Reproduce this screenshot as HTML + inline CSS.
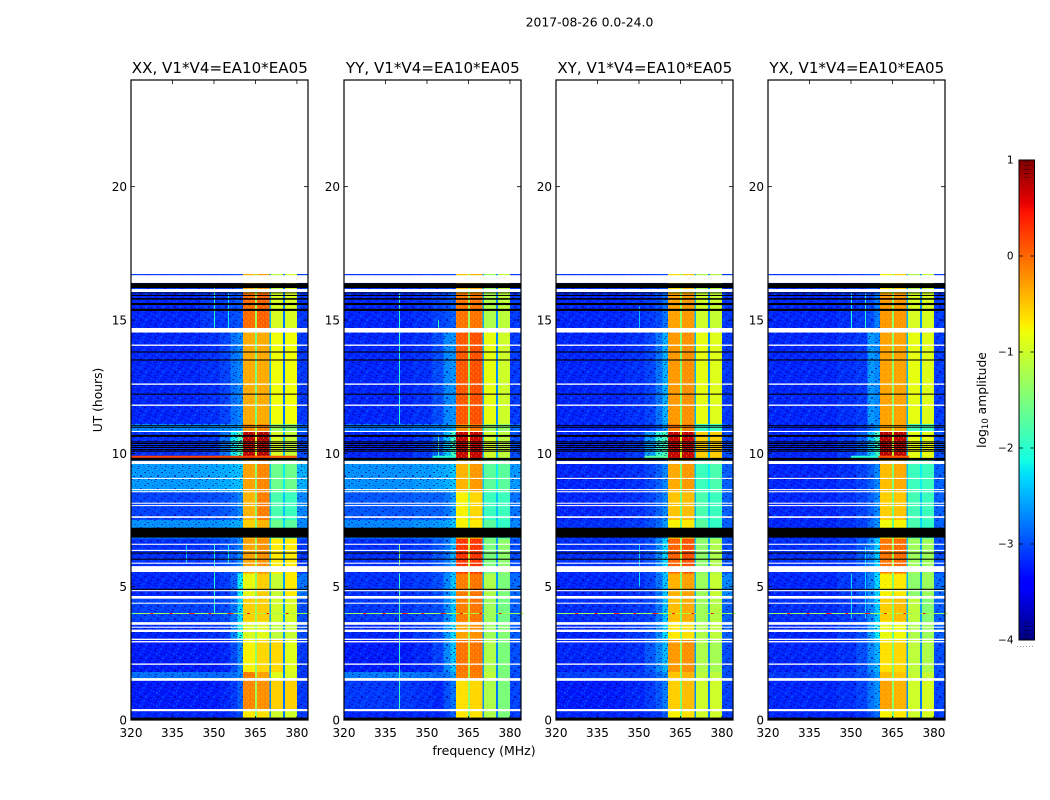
<!DOCTYPE html>
<html lang="en">
<head>
<meta charset="utf-8">
<title>2017-08-26 dynamic spectra</title>
<style>
  html, body { margin: 0; padding: 0; background: #fff; }
  body { width: 1050px; height: 800px; overflow: hidden; }
  svg { display: block; }
  text { font-family: "DejaVu Sans", "Liberation Sans", sans-serif; fill: #000; }
</style>
</head>
<body>
<svg id="chart" xmlns="http://www.w3.org/2000/svg" width="1050" height="800" viewBox="0 0 1050 800">
  <defs>
    <pattern id="speckle" width="17" height="13" patternUnits="userSpaceOnUse" shape-rendering="crispEdges">
      <rect x="1" y="0" width="2" height="1" fill="#000090" opacity=".6"/>
      <rect x="6" y="1" width="1" height="2" fill="#0068ff" opacity=".6"/>
      <rect x="9" y="0" width="1" height="1" fill="#000090" opacity=".5"/>
      <rect x="11" y="2" width="2" height="1" fill="#000090" opacity=".6"/>
      <rect x="15" y="1" width="1" height="1" fill="#0080ff" opacity=".5"/>
      <rect x="0" y="2" width="1" height="1" fill="#0070ff" opacity=".5"/>
      <rect x="3" y="3" width="2" height="2" fill="#0070ff" opacity=".5"/>
      <rect x="8" y="4" width="2" height="1" fill="#000080" opacity=".65"/>
      <rect x="13" y="4" width="1" height="2" fill="#0060ff" opacity=".6"/>
      <rect x="16" y="4" width="1" height="1" fill="#000090" opacity=".6"/>
      <rect x="1" y="5" width="1" height="1" fill="#000090" opacity=".5"/>
      <rect x="6" y="5" width="1" height="1" fill="#0080ff" opacity=".4"/>
      <rect x="11" y="6" width="1" height="1" fill="#0080ff" opacity=".4"/>
      <rect x="0" y="7" width="2" height="1" fill="#0060ff" opacity=".5"/>
      <rect x="4" y="7" width="2" height="2" fill="#000090" opacity=".6"/>
      <rect x="9" y="7" width="2" height="2" fill="#0080ff" opacity=".45"/>
      <rect x="14" y="8" width="2" height="1" fill="#000090" opacity=".6"/>
      <rect x="2" y="9" width="1" height="1" fill="#0080ff" opacity=".4"/>
      <rect x="7" y="9" width="1" height="1" fill="#000080" opacity=".5"/>
      <rect x="12" y="9" width="1" height="1" fill="#000080" opacity=".5"/>
      <rect x="16" y="10" width="1" height="1" fill="#0070ff" opacity=".5"/>
      <rect x="2" y="11" width="2" height="1" fill="#000090" opacity=".6"/>
      <rect x="7" y="11" width="2" height="2" fill="#0070ff" opacity=".45"/>
      <rect x="12" y="11" width="2" height="1" fill="#000080" opacity=".6"/>
      <rect x="15" y="12" width="1" height="1" fill="#000090" opacity=".5"/>
      <rect x="5" y="12" width="1" height="1" fill="#0080ff" opacity=".4"/>
    </pattern>
    <pattern id="ripple" width="5" height="5" patternUnits="userSpaceOnUse" shape-rendering="crispEdges">
      <rect x="1" y="0" width="1" height="2" fill="#ffe000" opacity=".3"/>
      <rect x="3" y="2" width="1" height="2" fill="#ffe000" opacity=".3"/>
      <rect x="0" y="4" width="1" height="1" fill="#ff4000" opacity=".2"/>
    </pattern>
  </defs>
  <text x="589.5" y="26.5" text-anchor="middle" font-size="12.4">2017-08-26 0.0-24.0</text>
  <text x="484" y="755" text-anchor="middle" font-size="12.5">frequency (MHz)</text>
  <text transform="translate(102,400) rotate(-90)" text-anchor="middle" font-size="12.3">UT (hours)</text>
  <text transform="translate(986,400) rotate(-90)" text-anchor="middle" font-size="12.3">log<tspan font-size="8.5" dy="2">10</tspan><tspan dy="-2"> amplitude</tspan></text>
</svg>
<script>
// ---- Axis data ----
const xTicks = [320, 335, 350, 365, 380];
const yTicks = [0, 5, 10, 15, 20];
const colorbarTicks = [1, 0, -1, -2, -3, -4];
const colorbarEdgeTicks = [0.98, 0.94, 0.9, 0.86, 0.82, -3.82, -3.86, -3.9, -3.94, -3.98];
const panelNames = ["XX, V1*V4=EA10*EA05", "YY, V1*V4=EA10*EA05", "XY, V1*V4=EA10*EA05", "YX, V1*V4=EA10*EA05"];
const panelSlugs = ["xx", "yy", "xy", "yx"];

// ---- Spectrogram grid: frequency channel groups (MHz) and time bands (hours) ----
const freqEdges = [320, 345, 352, 356, 358.5, 360.5, 364.8, 365.5, 370, 370.6, 375, 375.6, 380, 384];
const timeEdges = [0, 0.42, 1.56, 1.8, 3.0, 3.7, 4.6, 5.5, 6.8, 7.5, 8.55, 9.75, 10.8, 11.1, 14.7, 16.0, 16.72];

// log10 amplitude: one row per time band, one value per frequency group
const ampXX = [
  [-3.2,-3.2,-3.2,-3.1,-3.0,-0.7,-1.5,-0.65,-2.7,-1.0,-2.8,-1.0,-3.1],
  [-3.25,-3.25,-3.2,-3.1,-2.9,-0.15,-1.3,-0.2,-2.7,-0.55,-2.8,-0.55,-3.1],
  [-2.8,-2.85,-2.85,-2.8,-2.7,-0.1,-1.3,-0.3,-2.5,-0.9,-2.7,-0.95,-3.1],
  [-3.25,-3.25,-3.2,-3.0,-2.7,-0.75,-1.4,-0.6,-2.6,-0.6,-2.7,-0.9,-3.1],
  [-3.2,-3.15,-3.1,-2.7,-2.1,-0.95,-1.5,-0.9,-2.5,-1.1,-2.6,-1.05,-3.0],
  [-3.05,-3.05,-3.0,-2.8,-2.3,-0.55,-1.3,-0.55,-2.5,-1.0,-2.6,-0.95,-3.0],
  [-3.2,-3.15,-3.1,-2.9,-2.2,-0.85,-1.4,-0.55,-2.5,-1.05,-2.6,-0.7,-2.8],
  [-3.15,-3.1,-3.0,-2.9,-2.7,-0.3,-1.3,-0.2,-2.4,-0.7,-2.6,-0.7,-3.1],
  [-2.65,-2.65,-2.6,-2.55,-2.5,-0.55,-1.5,-0.4,-2.4,-1.6,-2.3,-1.7,-2.7],
  [-3.05,-3.0,-2.95,-2.85,-2.7,-0.4,-1.4,-0.1,-2.5,-1.8,-2.4,-1.9,-2.7],
  [-2.6,-2.55,-2.5,-2.45,-2.4,-0.3,-1.4,-0.15,-2.4,-1.6,-2.2,-1.6,-2.5],
  [-3.15,-3.1,-2.8,-2.2,-1.8,0.75,-1.0,0.8,-2.4,-0.95,-2.5,-1.05,-3.0],
  [-2.7,-2.7,-2.65,-2.6,-2.5,-0.2,-1.3,-0.15,-2.3,-1.3,-2.4,-1.4,-2.8],
  [-3.2,-3.15,-3.05,-2.8,-2.7,-0.35,-1.5,-0.35,-2.5,-0.8,-2.8,-0.8,-3.1],
  [-3.2,-3.1,-3.1,-3.0,-2.95,0.0,-1.3,0.05,-2.5,-0.95,-2.8,-0.95,-3.1],
  [-3.1,-3.1,-3.1,-3.0,-3.0,-0.4,-1.3,-0.3,-2.6,-1.1,-2.8,-1.0,-3.1]
];
const ampYY = [
  [-3.2,-3.2,-3.2,-3.1,-2.9,-0.7,-1.5,-0.65,-2.7,-1.2,-2.8,-1.5,-3.1],
  [-3.1,-3.15,-3.2,-3.0,-2.8,-0.65,-1.4,-0.6,-2.7,-1.2,-2.8,-1.5,-3.05],
  [-2.75,-2.8,-2.85,-2.8,-2.6,-0.1,-1.3,-0.1,-2.6,-1.1,-2.7,-1.5,-3.0],
  [-3.25,-3.2,-3.05,-2.7,-2.4,-0.05,-1.2,-0.05,-2.6,-1.2,-2.7,-1.5,-3.0],
  [-3.2,-3.1,-3.0,-2.6,-2.3,-0.3,-1.3,-0.2,-2.6,-1.3,-2.6,-1.45,-2.9],
  [-3.1,-3.05,-3.0,-2.7,-2.4,-0.1,-1.2,-0.05,-2.5,-1.3,-2.6,-1.55,-2.9],
  [-3.15,-3.1,-3.0,-2.7,-2.4,-0.1,-1.2,-0.05,-2.5,-1.2,-2.6,-1.5,-2.85],
  [-3.15,-3.1,-2.95,-2.8,-2.5,0.3,-1.1,0.3,-2.4,-1.5,-2.6,-1.4,-3.0],
  [-2.7,-2.65,-2.6,-2.55,-2.4,-0.75,-1.6,-0.7,-2.4,-1.7,-2.3,-1.95,-2.7],
  [-2.95,-2.9,-2.9,-2.8,-2.6,-0.75,-1.6,-0.6,-2.5,-1.9,-2.4,-1.9,-2.8],
  [-2.65,-2.6,-2.55,-2.5,-2.4,-0.4,-1.3,-0.25,-2.4,-1.7,-2.2,-1.7,-2.6],
  [-3.2,-3.1,-2.9,-2.4,-1.9,0.7,-1.0,0.7,-2.4,-1.0,-2.5,-1.1,-3.0],
  [-2.8,-2.75,-2.7,-2.6,-2.5,-0.2,-1.3,-0.1,-2.3,-1.3,-2.4,-1.4,-2.8],
  [-3.2,-3.15,-3.0,-2.7,-2.65,0.1,-1.4,0.15,-2.5,-0.85,-2.7,-1.0,-3.1],
  [-3.2,-3.15,-3.05,-3.0,-2.9,-0.05,-1.3,-0.05,-2.5,-1.2,-2.7,-1.1,-3.1],
  [-3.15,-3.1,-3.1,-3.0,-3.0,-0.5,-1.3,-0.4,-2.6,-1.3,-2.7,-1.1,-3.1]
];
const ampXY = [
  [-3.2,-3.2,-3.15,-3.1,-2.9,-0.75,-1.6,-0.65,-2.7,-1.0,-2.8,-1.0,-3.1],
  [-3.25,-3.2,-3.1,-2.95,-2.75,-0.55,-1.5,-0.45,-2.7,-1.0,-2.8,-1.0,-3.05],
  [-3.05,-3.05,-3.0,-2.85,-2.7,-0.5,-1.5,-0.4,-2.6,-1.1,-2.7,-1.1,-3.0],
  [-3.2,-3.15,-2.95,-2.7,-2.45,-0.25,-1.4,-0.2,-2.6,-1.2,-2.7,-1.25,-3.0],
  [-3.2,-3.1,-3.0,-2.7,-2.3,-0.7,-1.6,-0.65,-2.6,-1.2,-2.6,-1.1,-2.9],
  [-3.15,-3.1,-3.05,-2.8,-2.4,-0.45,-1.5,-0.35,-2.5,-1.3,-2.6,-1.15,-2.9],
  [-3.2,-3.15,-3.05,-2.8,-2.4,-0.4,-1.5,-0.3,-2.5,-1.3,-2.6,-1.05,-2.7],
  [-3.15,-3.1,-3.0,-2.7,-2.3,0.05,-1.3,0.15,-2.4,-1.4,-2.6,-1.2,-3.0],
  [-3.15,-3.1,-3.0,-2.85,-2.6,-0.75,-1.7,-0.7,-2.4,-1.7,-2.3,-1.95,-2.9],
  [-3.2,-3.15,-3.05,-2.9,-2.7,-0.5,-1.6,-0.45,-2.5,-1.8,-2.4,-1.9,-2.9],
  [-3.2,-3.15,-3.05,-2.9,-2.7,-0.35,-1.5,-0.25,-2.4,-1.9,-2.2,-1.8,-2.9],
  [-3.2,-3.1,-2.6,-2.0,-1.8,0.7,-1.0,0.7,-2.4,-0.55,-2.5,-0.55,-3.0],
  [-3.2,-3.15,-3.1,-2.9,-2.6,-0.1,-1.3,-0.1,-2.3,-1.9,-2.4,-1.9,-3.0],
  [-3.2,-3.15,-3.05,-2.8,-2.5,-0.25,-1.5,-0.2,-2.5,-0.85,-2.7,-0.9,-3.1],
  [-3.2,-3.15,-3.1,-3.0,-2.8,-0.3,-1.4,-0.25,-2.5,-1.0,-2.7,-1.05,-3.1],
  [-3.15,-3.1,-3.1,-3.0,-3.0,-0.65,-1.4,-0.55,-2.6,-1.2,-2.7,-1.15,-3.1]
];
const ampYX = [
  [-3.2,-3.2,-3.15,-3.0,-2.85,-0.75,-1.6,-0.7,-2.7,-1.0,-2.8,-0.95,-3.1],
  [-3.2,-3.15,-3.05,-2.8,-2.65,-0.3,-1.4,-0.4,-2.7,-1.0,-2.8,-0.95,-3.05],
  [-3.1,-3.05,-3.0,-2.8,-2.6,-0.45,-1.5,-0.5,-2.6,-1.05,-2.7,-1.05,-3.0],
  [-3.2,-3.15,-3.0,-2.7,-2.5,-0.65,-1.5,-0.6,-2.6,-1.1,-2.7,-1.2,-3.0],
  [-3.2,-3.1,-3.0,-2.6,-2.2,-0.85,-1.7,-0.8,-2.6,-1.2,-2.6,-1.3,-2.9],
  [-3.15,-3.1,-3.0,-2.7,-2.35,-0.55,-1.5,-0.45,-2.5,-1.1,-2.6,-1.45,-2.9],
  [-3.2,-3.1,-3.0,-2.7,-2.3,-0.75,-1.5,-0.7,-2.5,-1.4,-2.6,-1.3,-2.85],
  [-3.15,-3.1,-2.95,-2.7,-2.35,-0.05,-1.3,0.0,-2.4,-1.3,-2.6,-1.3,-3.0],
  [-3.2,-3.15,-3.05,-2.85,-2.65,-0.8,-1.7,-0.75,-2.4,-1.8,-2.3,-1.95,-2.9],
  [-3.2,-3.15,-3.05,-2.9,-2.7,-0.55,-1.6,-0.5,-2.5,-1.85,-2.4,-1.9,-2.9],
  [-3.2,-3.15,-3.05,-2.9,-2.7,-0.45,-1.5,-0.35,-2.4,-1.9,-2.2,-1.9,-2.9],
  [-3.2,-3.1,-2.9,-2.4,-1.9,0.75,-1.1,0.75,-2.4,-0.85,-2.5,-0.85,-3.0],
  [-3.2,-3.15,-3.05,-2.8,-2.6,-0.3,-1.3,-0.3,-2.3,-1.85,-2.4,-1.85,-3.0],
  [-3.2,-3.15,-3.1,-2.6,-2.7,-0.3,-1.4,-0.3,-2.5,-0.85,-2.7,-0.9,-3.1],
  [-3.2,-3.15,-3.1,-3.0,-2.75,-0.25,-1.4,-0.25,-2.5,-0.95,-2.7,-0.95,-3.1],
  [-3.15,-3.1,-3.1,-3.0,-3.0,-0.75,-1.4,-0.6,-2.6,-1.2,-2.7,-1.1,-3.1]
];
const panelAmps = [ampXX, ampYY, ampXY, ampYX];

// Missing integrations (hours): white = no data, black = flagged to zero
const whiteGaps = [[0.33,0.41],[1.47,1.57],[2.07,2.12],[2.91,2.96],[3.0,3.05],[3.30,3.39],[3.46,3.50],[3.57,3.67],[4.36,4.40],[4.55,4.65],[4.83,4.87],[5.55,5.77],[5.86,5.90],[6.34,6.38],[6.57,6.61],[7.58,7.64],[8.02,8.06],[8.11,8.15],[8.54,8.58],[8.62,8.66],[9.04,9.08],[9.60,9.71],[10.80,10.84],[11.78,11.83],[12.57,12.62],[14.03,14.08],[14.53,14.70],[16.05,16.16],[16.39,16.68]];
const blackGaps = [[0,0.09],[4.88,4.92],[6.24,6.28],[6.01,6.05],[6.84,7.21],[9.73,9.83],[10.06,10.10],[10.12,10.16],[10.20,10.24],[10.27,10.31],[10.35,10.39],[10.41,10.45],[10.62,10.69],[10.96,11.0],[11.03,11.06],[12.2,12.24],[13.48,13.52],[13.78,13.82],[15.34,15.42],[15.56,15.64],[15.76,15.82],[15.9,15.94],[16.0,16.03],[16.2,16.38]];

// RFI burst row near 4 h: log10 amplitude per MHz from 320 to 384
const rfiHours = [3.97, 4.03];
const rfiAmps = [-1.6,-1.5,-1.2,-1.2,-1.3,-1.2,-1.2,0.4,-1.2,-1.3,-1.2,-1.2,-1.3,-1.2,0.5,-1.2,-1.3,-1.2,-1.2,-1.3,-1.2,0.4,0.3,-1.3,-1.2,-1.2,-1.3,-1.2,0.4,-1.2,-1.2,-1.3,-1.2,-1.2,-1.3,0.5,0.3,-1.2,-1.2,-1.3,-1.2,-1.2,0.5,-1.0,-1.0,-1.2,-1.2,-1.2,-1.3,0.5,-1.2,-1.2,-1.3,-1.2,-1.2,-1.3,0.5,-1.2,-1.2,-1.3,-1.2,-1.3,-1.2,-1.3,-1.3];

// Narrow RFI channels per panel: [MHz, start hour, end hour, log10 amplitude]
const rfiChannelsXX = [[350,4.0,6.6,-2.0],[350,14.7,16.4,-2.0],[355,14.7,16.0,-2.2],[355,5.9,6.6,-2.2],[340,5.9,6.6,-2.4]];
const rfiChannelsYY = [[339.9,11.1,16.0,-2.0],[339.9,0.4,5.5,-1.9],[339.9,5.8,6.6,-1.5],[354,14.7,15.0,-1.9],[354,9.8,10.7,-1.9]];
const rfiChannelsXY = [[350,5.0,6.6,-2.3],[350,14.7,15.5,-2.4]];
const rfiChannelsYX = [[350,14.7,16.0,-2.1],[355,14.7,16.0,-1.9],[350,3.8,5.5,-2.3],[355,3.8,6.5,-2.3]];
const panelRfiChannels = [rfiChannelsXX, rfiChannelsYY, rfiChannelsXY, rfiChannelsYX];

// Burst line near 9.87 h: [start MHz, end MHz, log10 amplitude]
const burstHours = [9.83, 9.91];
const burstXX = [[320, 365, 0.2], [365, 380, 0.1]];
const burstYY = [[352, 360, -2.0]];
const burstXY = [[352, 360, -1.7]];
const burstYX = [[350, 360, -2.0], [360, 371, 0.1]];
const panelBursts = [burstXX, burstYY, burstXY, burstYX];

// ---- Layout ----
const panelLefts = [131, 344, 556, 768];
const panelWidth = 177;
const plotTop = 80;
const plotBottom = 720;
const cbLeft = 1019, cbRight = 1034.5, cbTop = 160, cbBottom = 640;
const svg = document.getElementById('chart');
const NS = 'http://www.w3.org/2000/svg';

const yScale = h => plotBottom - h / 24 * (plotBottom - plotTop);
const xScale = (left, f) => left + (f - 320) / 64 * panelWidth;
const cbScale = v => cbBottom - (v + 4) / 5 * (cbBottom - cbTop);

function lerp(points, t) {
  for (let i = 1; i < points.length; i++) {
    if (t <= points[i][0]) {
      const a = points[i - 1], b = points[i];
      return a[1] + (b[1] - a[1]) * (t - a[0]) / (b[0] - a[0]);
    }
  }
  return points[points.length - 1][1];
}
const jetR = [[0,0],[0.35,0],[0.66,1],[0.89,1],[1,0.5]];
const jetG = [[0,0],[0.125,0],[0.375,1],[0.64,1],[0.91,0],[1,0]];
const jetB = [[0,0.5],[0.11,1],[0.34,1],[0.65,0],[1,0]];
function jet(v) {
  const t = Math.max(0, Math.min(1, (v + 4) / 5));
  const c = p => Math.round(lerp(p, t) * 255);
  return 'rgb(' + c(jetR) + ',' + c(jetG) + ',' + c(jetB) + ')';
}
function make(tag, attrs, parent) {
  const el = document.createElementNS(NS, tag);
  for (const k in attrs) el.setAttribute(k, attrs[k]);
  (parent || svg).appendChild(el);
  return el;
}

panelLefts.forEach((left, p) => {
  const slug = panelSlugs[p];
  const right = left + panelWidth;
  const g = make('g', {});
  
  

  // heatmap cells
  const heat = make('g', { 'shape-rendering': 'crispEdges' }, g);
  
  
  panelAmps[p].forEach((row, r) => {
    row.forEach((val, c) => {
      const x0 = xScale(left, freqEdges[c]), x1 = xScale(left, freqEdges[c + 1]);
      const y0 = yScale(timeEdges[r + 1]), y1 = yScale(timeEdges[r]);
      const cell = make('rect', { x: x0, y: y0, width: x1 - x0, height: y1 - y0, fill: jet(val) }, heat);
      
      
    });
  });

  // decorative fine-grain texture over the quiet part of the band and the bright bands
  const bgTop = yScale(timeEdges[timeEdges.length - 1]);
  const grainA = make('rect', { x: left, y: bgTop, width: xScale(left, 360.5) - left, height: plotBottom - bgTop, fill: 'url(#speckle)' }, g);
  
  
  const grainB = make('rect', { x: xScale(left, 380), y: bgTop, width: right - xScale(left, 380), height: plotBottom - bgTop, fill: 'url(#speckle)' }, g);
  
  
  const rippleA = make('rect', { x: xScale(left, 360.5), y: bgTop, width: xScale(left, 364.8) - xScale(left, 360.5), height: plotBottom - bgTop, fill: 'url(#ripple)' }, g);
  
  
  const rippleB = make('rect', { x: xScale(left, 365.5), y: bgTop, width: xScale(left, 370) - xScale(left, 365.5), height: plotBottom - bgTop, fill: 'url(#ripple)' }, g);
  
  

  // narrow RFI channels
  panelRfiChannels[p].forEach(ch => {
    const line = make('rect', { x: Math.round(xScale(left, ch[0])), y: yScale(ch[2]), width: 1, height: yScale(ch[1]) - yScale(ch[2]), fill: jet(ch[3]) }, g);
    
    
  });

  // RFI burst row
  rfiAmps.forEach((val, i) => {
    const x0 = xScale(left, 320 + i), x1 = xScale(left, 321 + i);
    const rowTop = Math.round(yScale(rfiHours[1]));
    const rowBottom = Math.max(rowTop + 1, Math.round(yScale(rfiHours[0])));
    const seg = make('rect', { x: x0, y: rowTop, width: x1 - x0, height: rowBottom - rowTop, fill: jet(val) }, g);
    
    
  });

  // burst line
  panelBursts[p].forEach(b => {
    const seg = make('rect', { x: xScale(left, b[0]), y: yScale(burstHours[1]), width: xScale(left, b[1]) - xScale(left, b[0]), height: yScale(burstHours[0]) - yScale(burstHours[1]), fill: jet(b[2]) }, g);
    
    
  });

  // missing-data rows
  whiteGaps.forEach(gap => {
    const rect = make('rect', { x: left, y: yScale(gap[1]), width: panelWidth, height: yScale(gap[0]) - yScale(gap[1]), fill: '#fff' }, g);
    
    
  });
  blackGaps.forEach(gap => {
    const rect = make('rect', { x: left, y: yScale(gap[1]), width: panelWidth, height: yScale(gap[0]) - yScale(gap[1]), fill: '#000' }, g);
    
    
  });

  // frame
  const frame = make('rect', { x: left, y: plotTop, width: panelWidth, height: plotBottom - plotTop, fill: 'none', stroke: '#000', 'stroke-width': 1.2 }, g);
  
  

  // x ticks
  xTicks.forEach(f => {
    const x = xScale(left, f);
    const tickB = make('line', { x1: x, x2: x, y1: plotBottom, y2: plotBottom - 4, stroke: '#000', 'stroke-width': 0.8 }, g);
    
    
    const tickT = make('line', { x1: x, x2: x, y1: plotTop, y2: plotTop + 4, stroke: '#000', 'stroke-width': 0.8 }, g);
    
    
    const label = make('text', { x: x, y: 737, 'text-anchor': 'middle', 'font-size': 12 }, g);
    
    
    label.textContent = f;
  });

  // y ticks
  yTicks.forEach(h => {
    const y = yScale(h);
    const tickL = make('line', { x1: left, x2: left + 4, y1: y, y2: y, stroke: '#000', 'stroke-width': 0.8 }, g);
    
    
    const tickR = make('line', { x1: right, x2: right - 4, y1: y, y2: y, stroke: '#000', 'stroke-width': 0.8 }, g);
    
    
    const label = make('text', { x: left - 4, y: y + 4.5, 'text-anchor': 'end', 'font-size': 12 }, g);
    
    
    label.textContent = h;
  });

  // title
  const title = make('text', { x: left + panelWidth / 2 + 0.3, y: 73, 'text-anchor': 'middle', 'font-size': 15.1 }, g);
  
  
  title.textContent = panelNames[p];
});

// ---- Colorbar ----
const cb = make('g', {});


const cbRamp = make('g', { 'shape-rendering': 'crispEdges' }, cb);


for (let py = cbTop; py < cbBottom; py++) {
  const v = -4 + (cbBottom - py - 0.5) / (cbBottom - cbTop) * 5;
  const s = make('rect', { x: cbLeft, y: py, width: cbRight - cbLeft, height: 1, fill: jet(v) }, cbRamp);
  
  
}
const cbFrame = make('rect', { x: cbLeft, y: cbTop, width: cbRight - cbLeft, height: cbBottom - cbTop, fill: 'none', stroke: '#000', 'stroke-width': 1 }, cb);


colorbarTicks.forEach(v => {
  const y = cbScale(v);
  const tl = make('line', { x1: cbLeft, x2: cbLeft + 4, y1: y, y2: y, stroke: '#000', 'stroke-width': 0.8 }, cb);
  
  
  const tr = make('line', { x1: cbRight, x2: cbRight - 4, y1: y, y2: y, stroke: '#000', 'stroke-width': 0.8 }, cb);
  
  
  const label = make('text', { x: 1013.5, y: y + 3.5, 'text-anchor': 'end', 'font-size': 10.5 }, cb);
  
  
  label.textContent = String(v).replace('-', '\u2212');
});
colorbarEdgeTicks.forEach(v => {
  const y = cbScale(v);
  const t = make('line', { x1: cbLeft + 5, x2: cbRight - 5, y1: y, y2: y, stroke: '#000', 'stroke-width': 0.4 }, cb);
  
  
});
const cbDots = make('line', { x1: 1017, x2: 1035, y1: 646.5, y2: 646.5, stroke: '#999', 'stroke-width': 1, 'stroke-dasharray': '1 2' }, cb);


</script>
</body>
</html>
